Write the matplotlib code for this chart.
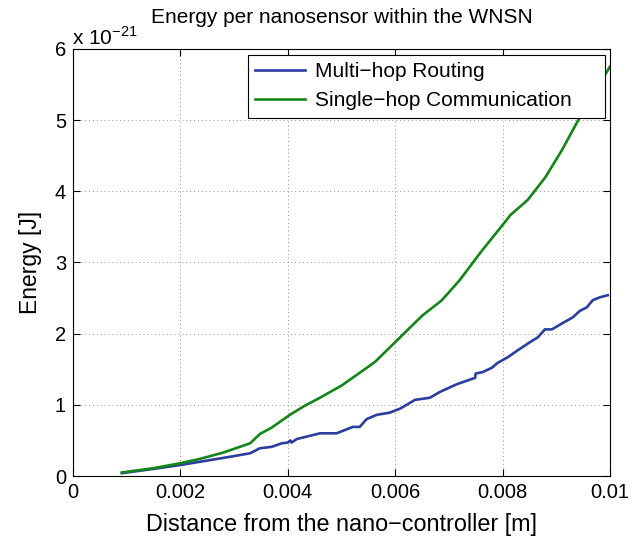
import matplotlib
matplotlib.use("Agg")
import matplotlib.pyplot as plt
from matplotlib.ticker import FixedLocator

plt.rcParams['font.family'] = ['Liberation Sans', 'DejaVu Sans']

# Distance [m] and energy [x 1e-21 J]
single_x = [0.00091, 0.0015, 0.002, 0.00236, 0.0028, 0.0033, 0.00348, 0.0037, 0.00404,
            0.0043, 0.0046, 0.005, 0.00534, 0.00562, 0.006, 0.0065, 0.00687, 0.0072,
            0.0076, 0.0081, 0.00815, 0.00832, 0.00847, 0.0088, 0.0091, 0.00944, 0.0097, 0.01]
single_y = [0.05, 0.11, 0.18, 0.24, 0.33, 0.46, 0.59, 0.68, 0.86,
            0.98, 1.10, 1.27, 1.45, 1.60, 1.88, 2.25, 2.47, 2.75,
            3.15, 3.62, 3.67, 3.78, 3.88, 4.2, 4.57, 5.04, 5.38, 5.75]

multi_x = [0.00091, 0.0015, 0.002, 0.0026, 0.003, 0.0033, 0.00348, 0.0037, 0.00389,
           0.0040, 0.00405, 0.00407, 0.00417, 0.0046, 0.00491, 0.00521, 0.00534, 0.00547,
           0.00566, 0.0059, 0.0061, 0.00637, 0.00665, 0.00683, 0.00715, 0.0073, 0.00749,
           0.0075, 0.00763, 0.0078, 0.00791, 0.0081, 0.00829, 0.00851, 0.00866, 0.00879,
           0.00892, 0.0091, 0.00931, 0.00944, 0.00957, 0.00968, 0.00981, 0.00996]
multi_y = [0.04, 0.10, 0.155, 0.23, 0.28, 0.32, 0.39, 0.41, 0.46,
           0.47, 0.50, 0.47, 0.52, 0.60, 0.60, 0.69, 0.69, 0.80,
           0.86, 0.89, 0.95, 1.07, 1.10, 1.18, 1.29, 1.33, 1.38,
           1.44, 1.46, 1.52, 1.59, 1.67, 1.77, 1.88, 1.95, 2.06,
           2.06, 2.14, 2.23, 2.32, 2.37, 2.47, 2.51, 2.54]

x_ticks = [0, 0.002, 0.004, 0.006, 0.008, 0.01]
x_tick_labels = ['0', '0.002', '0.004', '0.006', '0.008', '0.01']
y_ticks = [0, 1, 2, 3, 4, 5, 6]

fig = plt.figure(figsize=(6.42, 5.38), dpi=100)
ax = fig.add_axes([0.1137, 0.1152, 0.8363, 0.7938])

blue = '#2b3d9e'
green = '#13861a'
ax.plot(multi_x, multi_y, color=blue, lw=1.9, label='Multi\u2212hop Routing')
ax.plot(single_x, single_y, color=green, lw=1.9, label='Single\u2212hop Communication')

ax.set_xlim(0, 0.01)
ax.set_ylim(0, 6)
ax.xaxis.set_major_locator(FixedLocator(x_ticks))
ax.yaxis.set_major_locator(FixedLocator(y_ticks))
ax.set_xticklabels(x_tick_labels)
ax.set_yticklabels([str(v) for v in y_ticks])
ax.tick_params(direction='in', top=True, right=True, labelsize=14.5, length=5, width=0.8, pad=5)
ax.grid(True, linestyle=(0, (1, 3)), color='#909090', linewidth=0.7)
for s in ax.spines.values():
    s.set_linewidth(0.8)

ax.set_xlabel('Distance from the nano\u2212controller [m]', fontsize=16.8, labelpad=8)
ax.set_ylabel('Energy [J]', fontsize=16.5, labelpad=9)
ax.set_title('Energy per nanosensor within the WNSN', fontsize=15, pad=19)
ax.text(-0.002, 1.0094, 'x 10$^{\\mathregular{\u221221}}$', transform=ax.transAxes, fontsize=15,
        ha='left', va='baseline')

leg = ax.legend(loc='upper left', bbox_to_anchor=(0.326, 0.0, 0.665, 0.986), mode='expand',
                fontsize=15, fancybox=False, framealpha=1, edgecolor='black',
                borderaxespad=0.0, handlelength=2.4, handletextpad=0.45,
                borderpad=0.35, labelspacing=0.48)
leg.get_frame().set_linewidth(0.8)

fig.savefig('out.png', dpi=100)
